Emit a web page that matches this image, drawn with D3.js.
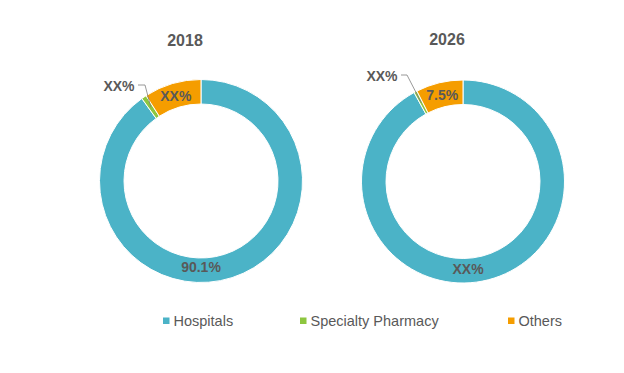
<!DOCTYPE html>
<html>
<head>
<meta charset="utf-8">
<script src="https://cdn.jsdelivr.net/npm/d3@7"></script>
<style>
  html, body { margin: 0; padding: 0; background: #fff; }
  svg { display: block; font-family: "Liberation Sans", Arial, sans-serif; }
</style>
</head>
<body>
<svg id="chart" width="624" height="373"></svg>
<script>
// ---- data ----
const categories = ["Hospitals", "Specialty Pharmacy", "Others"];
const years = ["2018", "2026"];
const values2018 = [90.1, 0.8, 9.1];
const values2026 = [92.0, 0.5, 7.5];
const labels2018 = ["90.1%", "XX%", "XX%"];
const labels2026 = ["XX%", "XX%", "7.5%"];

// ---- styles ----
const colors = ["#4BB3C7", "#8DC63F", "#F59D00"];
const textColor = "#595959";
const labelSize = 14;

const svg = d3.select("#chart");
const color = d3.scaleOrdinal().domain(categories).range(colors);

const charts = [
  { year: years[0], values: values2018, labels: labels2018, cx: 201, cy: 181, titleY: 46,
    hospAngle: 180, hospR: 85.5,
    leader: { tx: 119, ty: 91, x0: 138, y0: 85, x1: 145 } },
  { year: years[1], values: values2026, labels: labels2026, cx: 463, cy: 181.5, titleY: 45,
    hospAngle: 176.7, hospR: 87,
    leader: { tx: 382, ty: 81, x0: 401, y0: 75, x1: 407 } }
];

const outerR = 101.5, innerR = 77;
const pie = d3.pie().sort(null).value(d => d.v);
const arc = d3.arc().innerRadius(innerR).outerRadius(outerR);
const labelArc = d3.arc().innerRadius((innerR + outerR) / 2).outerRadius((innerR + outerR) / 2);

function addLabel(g, x, y, t) {
  g.append("text")
    .attr("x", x).attr("y", y + 5.2)
    .attr("text-anchor", "middle")
    .attr("font-size", labelSize).attr("font-weight", "bold")
    .attr("fill", textColor)
    .text(t);
}

charts.forEach(c => {
  const data = categories.map((k, i) => ({ k, v: c.values[i], label: c.labels[i] }));
  const arcs = pie(data);
  const g = svg.append("g").attr("transform", `translate(${c.cx},${c.cy})`);

  g.selectAll("path").data(arcs).enter().append("path")
    .attr("d", arc)
    .attr("fill", d => color(d.data.k))
    .attr("stroke", "#fff")
    .attr("stroke-width", 1);

  // title
  svg.append("text")
    .attr("x", c.cx - 16).attr("y", c.titleY)
    .attr("text-anchor", "middle")
    .attr("font-size", 16).attr("font-weight", "bold")
    .attr("fill", textColor)
    .text(c.year);

  // Hospitals label (placed near bottom of ring)
  const ha = c.hospAngle * Math.PI / 180;
  addLabel(g, Math.sin(ha) * c.hospR, -Math.cos(ha) * c.hospR, arcs[0].data.label);

  // Others label at arc centroid
  const p = labelArc.centroid(arcs[2]);
  addLabel(g, p[0], p[1], arcs[2].data.label);

  // leader label for Specialty Pharmacy
  const sp = arcs[1];
  const mid = (sp.startAngle + sp.endAngle) / 2;
  const rIn = (innerR + outerR) / 2;
  const ex = c.cx + Math.sin(mid) * rIn;
  const ey = c.cy - Math.cos(mid) * rIn;
  const L = c.leader;
  svg.append("path")
    .attr("d", `M${L.x0},${L.y0}H${L.x1}L${ex},${ey}`)
    .attr("fill", "none")
    .attr("stroke", "#7f7f7f")
    .attr("stroke-width", 0.8);
  svg.append("text")
    .attr("x", L.tx).attr("y", L.ty)
    .attr("text-anchor", "middle")
    .attr("font-size", labelSize).attr("font-weight", "bold")
    .attr("fill", textColor)
    .text(sp.data.label);
});

// legend
const legendX = [163, 300, 508];
const legend = svg.append("g");
categories.forEach((k, i) => {
  legend.append("rect")
    .attr("x", legendX[i]).attr("y", 317.5)
    .attr("width", 6.5).attr("height", 6.5)
    .attr("fill", color(k));
  legend.append("text")
    .attr("x", legendX[i] + 10.5).attr("y", 326)
    .attr("font-size", 14.5)
    .attr("fill", textColor)
    .text(k);
});
</script>
</body>
</html>
